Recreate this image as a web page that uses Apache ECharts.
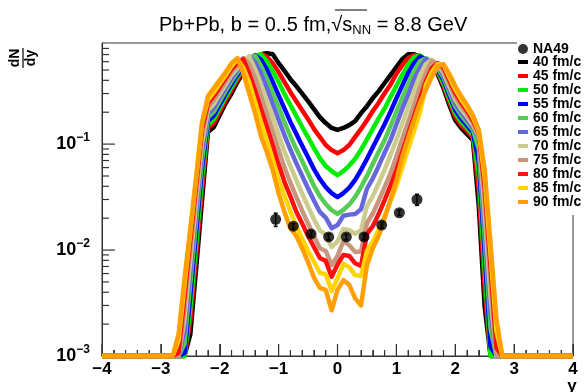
<!DOCTYPE html>
<html>
<head>
<meta charset="utf-8">
<script src="https://cdn.jsdelivr.net/npm/echarts@6/dist/echarts.min.js"></script>
<style>
  html, body { margin: 0; padding: 0; background: #fff; }
  #chart { width: 584px; height: 392px; }
</style>
</head>
<body>
<div id="chart"></div>
<script>
// rapidity grid shared by all model curves
const rapidity = [-4, -2.8, -2.7, -2.6, -2.5, -2.4, -2.3, -2.2, -2.1, -2.0, -1.9, -1.8, -1.7, -1.6, -1.5, -1.4, -1.3, -1.2, -1.1, -1.0,
  -0.9, -0.8, -0.7, -0.6, -0.5, -0.4, -0.3, -0.2, -0.1, 0, 0.1, 0.2, 0.3, 0.4, 0.5, 0.6, 0.7, 0.8, 0.9, 1.0,
  1.1, 1.2, 1.3, 1.4, 1.5, 1.6, 1.7, 1.8, 1.9, 2.0, 2.1, 2.2, 2.3, 2.4, 2.5, 2.6, 2.7, 2.8, 4];

const curveNames = ["40 fm/c", "45 fm/c", "50 fm/c", "55 fm/c", "60 fm/c", "65 fm/c",
  "70 fm/c", "75 fm/c", "80 fm/c", "85 fm/c", "90 fm/c"];
const curveColors = ["#000000", "#ff0000", "#00ee00", "#0000ff", "#55cc55", "#6666dd",
  "#cccc8c", "#c8967d", "#ff1010", "#ffd400", "#ffa000"];

const dndy40 = [0.001,0.001,0.001,0.001,0.0016,0.0068,0.030,0.13,0.145,0.188,0.243,0.30,0.385,0.478,0.569,0.648,0.706,0.722,0.706,0.581,
  0.49,0.41,0.353,0.30,0.254,0.214,0.18,0.158,0.142,0.136,0.142,0.151,0.165,0.196,0.228,0.272,0.316,0.377,0.448,0.532,
  0.634,0.706,0.706,0.662,0.594,0.532,0.457,0.338,0.233,0.168,0.142,0.124,0.109,0.026,0.0029,0.001,0.001,0.001,0.001];
const dndy45 = [0.001,0.001,0.001,0.001,0.00215,0.009,0.0385,0.142,0.158,0.202,0.26,0.323,0.405,0.499,0.588,0.662,0.706,0.669,0.581,0.478,
  0.385,0.309,0.254,0.209,0.172,0.139,0.117,0.098,0.0878,0.082,0.0878,0.098,0.117,0.139,0.168,0.205,0.246,0.302,0.364,0.461,
  0.556,0.648,0.691,0.669,0.607,0.546,0.472,0.358,0.249,0.182,0.151,0.133,0.115,0.0368,0.0044,0.001,0.001,0.001,0.001];
const dndy50 = [0.001,0.001,0.001,0.001,0.0028,0.0116,0.0478,0.151,0.172,0.219,0.278,0.345,0.429,0.521,0.607,0.676,0.706,0.607,0.488,0.385,
  0.296,0.233,0.184,0.145,0.116,0.0917,0.0738,0.062,0.0557,0.051,0.0557,0.0627,0.0728,0.0887,0.111,0.139,0.176,0.217,0.278,0.354,
  0.45,0.564,0.662,0.691,0.62,0.561,0.488,0.376,0.266,0.196,0.162,0.142,0.122,0.0505,0.0064,0.001,0.001,0.001,0.001];
const dndy55 = [0.001,0.001,0.001,0.00106,0.0037,0.015,0.0594,0.165,0.187,0.236,0.298,0.368,0.45,0.544,0.627,0.691,0.625,0.507,0.385,0.288,
  0.216,0.162,0.125,0.0965,0.075,0.058,0.0468,0.0393,0.0345,0.0316,0.0345,0.0388,0.046,0.0572,0.0724,0.0932,0.12,0.154,0.202,0.27,
  0.356,0.468,0.581,0.669,0.634,0.576,0.502,0.402,0.286,0.21,0.174,0.15,0.129,0.068,0.0092,0.00122,0.001,0.001,0.001];
const dndy60 = [0.001,0.001,0.001,0.0013,0.0049,0.0188,0.0722,0.177,0.203,0.254,0.318,0.393,0.474,0.569,0.648,0.683,0.547,0.415,0.304,0.224,
  0.161,0.119,0.0897,0.0692,0.0526,0.0404,0.0323,0.0272,0.0238,0.0219,0.0239,0.0269,0.0317,0.0393,0.0501,0.0652,0.0846,0.109,0.148,0.202,
  0.273,0.367,0.494,0.605,0.648,0.592,0.517,0.424,0.305,0.226,0.187,0.16,0.136,0.0897,0.0127,0.0018,0.001,0.001,0.001];
const dndy65 = [0.001,0.001,0.001,0.0017,0.0063,0.0233,0.0872,0.192,0.221,0.275,0.342,0.42,0.499,0.594,0.669,0.595,0.464,0.336,0.239,0.17,
  0.121,0.0887,0.0662,0.0501,0.0381,0.0293,0.0229,0.0202,0.0161,0.0172,0.0211,0.0216,0.0219,0.0243,0.0379,0.0475,0.0622,0.0828,0.109,0.153,
  0.215,0.291,0.406,0.524,0.634,0.607,0.532,0.448,0.326,0.243,0.20,0.17,0.143,0.115,0.0169,0.0026,0.001,0.001,0.001];
const dndy70 = [0.001,0.001,0.001,0.0022,0.008,0.0287,0.104,0.207,0.24,0.296,0.365,0.448,0.523,0.62,0.669,0.51,0.368,0.257,0.18,0.123,
  0.0848,0.062,0.0458,0.034,0.0257,0.0196,0.0154,0.0139,0.0107,0.012,0.0158,0.0154,0.0142,0.0154,0.026,0.0323,0.0427,0.0571,0.0788,0.11,
  0.157,0.223,0.315,0.444,0.569,0.623,0.549,0.474,0.35,0.262,0.215,0.182,0.151,0.119,0.0231,0.0036,0.001,0.001,0.001];
const dndy75 = [0.001,0.001,0.001,0.0028,0.01,0.0348,0.121,0.224,0.262,0.319,0.391,0.478,0.556,0.648,0.569,0.424,0.287,0.194,0.132,0.0882,
  0.06,0.0433,0.0318,0.0236,0.0178,0.0136,0.0104,0.0098,0.0072,0.0088,0.0121,0.0111,0.0096,0.0097,0.018,0.0221,0.0292,0.0393,0.0532,0.0763,
  0.112,0.162,0.235,0.342,0.468,0.607,0.569,0.501,0.373,0.283,0.23,0.193,0.159,0.123,0.0301,0.005,0.001,0.001,0.001];
const dndy80 = [0.001,0.001,0.00107,0.0036,0.0123,0.0414,0.14,0.242,0.285,0.345,0.418,0.51,0.583,0.634,0.465,0.323,0.215,0.146,0.0974,0.0641,
  0.0438,0.0321,0.023,0.0178,0.0136,0.0107,0.0084,0.0079,0.0056,0.0073,0.009,0.0088,0.0075,0.0071,0.0142,0.0168,0.022,0.0296,0.0406,0.0569,
  0.0845,0.124,0.183,0.267,0.391,0.518,0.583,0.529,0.40,0.304,0.247,0.206,0.168,0.127,0.0385,0.0068,0.0012,0.001,0.001];
const dndy85 = [0.001,0.001,0.0014,0.0046,0.0149,0.0486,0.159,0.262,0.309,0.372,0.447,0.544,0.634,0.526,0.383,0.25,0.162,0.109,0.0709,0.0459,
  0.0323,0.0231,0.0169,0.0128,0.0098,0.0078,0.0061,0.0059,0.0041,0.0054,0.0074,0.0069,0.0058,0.0057,0.0098,0.012,0.0156,0.021,0.029,0.0401,
  0.0602,0.0897,0.133,0.198,0.36,0.478,0.569,0.561,0.428,0.328,0.264,0.219,0.179,0.131,0.0483,0.009,0.0017,0.001,0.001];
const dndy90 = [0.001,0.001,0.0016,0.0053,0.016,0.049,0.16,0.284,0.338,0.402,0.478,0.581,0.648,0.468,0.302,0.196,0.119,0.0841,0.0569,0.0345,
  0.0228,0.0161,0.0136,0.0104,0.0077,0.0055,0.0044,0.0042,0.0027,0.0042,0.0052,0.0047,0.0035,0.003,0.0072,0.0104,0.0136,0.02,0.0296,0.0458,
  0.0755,0.114,0.168,0.243,0.323,0.43,0.544,0.569,0.457,0.353,0.284,0.233,0.188,0.136,0.0569,0.0114,0.0022,0.001,0.001];

const curveValues = [dndy40, dndy45, dndy50, dndy55, dndy60, dndy65, dndy70, dndy75, dndy80, dndy85, dndy90];

// NA49 data points
const na49Y = [-1.05, -0.75, -0.45, -0.15, 0.15, 0.45, 0.75, 1.05, 1.35];
const na49Value = [0.0195, 0.0168, 0.0142, 0.0133, 0.0133, 0.0133, 0.0172, 0.0225, 0.030];
const na49Err = [0.0028, 0.001, 0.0008, 0.0008, 0.0008, 0.0008, 0.001, 0.0013, 0.0036];

// axis ticks
const xMajorTicks = [-4, -3, -2, -1, 0, 1, 2, 3, 4];
const xTickLabels = ["\u22124", "\u22123", "\u22122", "\u22121", "0", "1", "2", "3", "4"];
const xMinorTicks = [-3.8, -3.6, -3.4, -3.2, -2.8, -2.6, -2.4, -2.2, -1.8, -1.6, -1.4, -1.2, -0.8, -0.6, -0.4, -0.2,
  0.2, 0.4, 0.6, 0.8, 1.2, 1.4, 1.6, 1.8, 2.2, 2.4, 2.6, 2.8, 3.2, 3.4, 3.6, 3.8];
const yMajorTicks = [0.001, 0.01, 0.1];
const yExponents = ["\u22123", "\u22122", "\u22121"];
const yMinorTicks = [0.002, 0.003, 0.004, 0.005, 0.006, 0.007, 0.008, 0.009,
  0.02, 0.03, 0.04, 0.05, 0.06, 0.07, 0.08, 0.09,
  0.2, 0.3, 0.4, 0.5, 0.6, 0.7, 0.8];

const FONT = "Liberation Sans, Arial, Helvetica, sans-serif";
const AXIS_COLOR = "#333333";

const chart = echarts.init(document.getElementById("chart"), null, { renderer: "canvas" });

const isMajorY = (v) => yMajorTicks.some((t) => Math.abs(t - v) / t < 1e-6);
const isMajorX = (v) => xMajorTicks.some((t) => Math.abs(t - v) < 1e-6);

const lineSeries = curveNames.map((name, k) => ({
  name: name,
  type: "line",
  data: rapidity.map((y, i) => [y, curveValues[k][i]]),
  symbol: "none",
  showSymbol: false,
  clip: false,
  z: 2,
  lineStyle: { color: curveColors[k], width: 4.5, cap: "butt", join: "round" },
  itemStyle: { color: curveColors[k] },
}));

function yLabel(value) {
  const i = yMajorTicks.findIndex((t) => Math.abs(t - value) / t < 1e-6);
  if (i < 0) return "";
  return "{b|10}{s|" + yExponents[i] + "}";
}

// short tick segments, placed through the axis scales
function tickItem(horizontal) {
  return (params, api) => {
    const vx = api.value(0);
    const vy = api.value(1);
    const p = api.coord([vx, vy]);
    const len = horizontal ? (isMajorY(vy) ? 13 : 7) : (isMajorX(vx) ? 12 : 6);
    const shape = horizontal
      ? { x1: p[0], y1: p[1], x2: p[0] + len, y2: p[1] }
      : { x1: p[0], y1: p[1], x2: p[0], y2: p[1] - len };
    return {
      type: "group",
      children: [{ type: "line", shape: shape, style: { stroke: AXIS_COLOR, lineWidth: 1.2 } }],
    };
  };
}

const legendText = {
  fontFamily: FONT,
  fontSize: 14,
  fontWeight: "bold",
  color: "#000",
  lineHeight: 13.4,
};

chart.setOption({
  animation: false,
  backgroundColor: "#fff",
  textStyle: { fontFamily: FONT },
  title: {
    text: "Pb+Pb, b = 0..5 fm,{r|\u221a}{s|s}{sub|NN}{t| = 8.8 GeV}",
    left: 154,
    top: 8,
    textStyle: {
      fontFamily: FONT,
      fontSize: 20,
      fontWeight: "normal",
      color: "#000",
      lineHeight: 24,
      rich: {
        r: { fontFamily: FONT, fontSize: 20, color: "#000", lineHeight: 24 },
        s: { fontFamily: FONT, fontSize: 20, color: "#000", lineHeight: 24 },
        sub: { fontFamily: FONT, fontSize: 13, color: "#000", lineHeight: 13, verticalAlign: "bottom" },
        t: { fontFamily: FONT, fontSize: 20, color: "#000", lineHeight: 24 },
      },
    },
  },
  legend: [
    {
      data: ["NA49"],
      orient: "vertical",
      left: 517,
      top: 40,
      icon: "circle",
      itemWidth: 10,
      itemHeight: 10,
      itemGap: 0,
      padding: [2, 22, 1, 1],
      backgroundColor: "#fff",
      selectedMode: false,
      textStyle: legendText,
    },
    {
      data: curveNames,
      orient: "vertical",
      left: 517,
      top: 55,
      icon: "rect",
      itemWidth: 10,
      itemHeight: 4,
      itemGap: 0,
      padding: [0, 4, 6, 1],
      backgroundColor: "#fff",
      selectedMode: false,
      itemStyle: { borderWidth: 0 },
      textStyle: legendText,
    },
  ],
  grid: {
    left: 102,
    right: 11,
    top: 43,
    bottom: 36,
    show: true,
    borderColor: AXIS_COLOR,
    borderWidth: 1,
    containLabel: false,
    outerBoundsMode: "none",
  },
  xAxis: {
    type: "value",
    min: -4,
    max: 4,
    interval: 1,
    axisLine: { show: true, onZero: false, lineStyle: { color: AXIS_COLOR, width: 1 } },
    splitLine: { show: false },
    axisTick: { show: true, inside: true, length: 12, lineStyle: { color: AXIS_COLOR, width: 1 } },
    minorTick: { show: true, splitNumber: 5, length: 6, lineStyle: { color: AXIS_COLOR, width: 1 } },
    axisLabel: {
      margin: 5,
      fontFamily: FONT,
      fontSize: 17,
      fontWeight: "bold",
      color: "#000",
      formatter: (v) => xTickLabels[Math.round(v) + 4],
    },
  },
  yAxis: {
    type: "log",
    logBase: 10,
    min: 0.001,
    max: 0.9,
    position: "left",
    axisLine: { show: true, onZero: false, lineStyle: { color: AXIS_COLOR, width: 1 } },
    splitLine: { show: false },
    axisTick: { show: false },
    axisLabel: {
      margin: 12,
      formatter: yLabel,
      rich: {
        b: { fontFamily: FONT, fontSize: 18, fontWeight: "bold", color: "#000", lineHeight: 24 },
        s: { fontFamily: FONT, fontSize: 12, fontWeight: "bold", color: "#000", lineHeight: 12, verticalAlign: "top" },
      },
    },
  },
  graphic: [
    {
      type: "group",
      x: 23,
      y: 58,
      rotation: Math.PI / 2,
      children: [
        { type: "text", x: 0, y: -1, style: { text: "dN", font: "bold 14px " + FONT, fill: "#000", align: "center", verticalAlign: "bottom", textAlign: "center", textVerticalAlign: "bottom" } },
        { type: "line", shape: { x1: -10, y1: 0, x2: 10, y2: 0 }, style: { stroke: "#000", lineWidth: 1.2 } },
        { type: "text", x: 0, y: 1, style: { text: "dy", font: "bold 14px " + FONT, fill: "#000", align: "center", verticalAlign: "top", textAlign: "center", textVerticalAlign: "top" } },
      ],
    },
    {
      type: "text",
      x: 572,
      y: 386,
      style: { text: "y", font: "bold 17px " + FONT, fill: "#000", align: "center", verticalAlign: "middle", textAlign: "center", textVerticalAlign: "middle" },
    },
    {
      type: "line",
      shape: { x1: 335, y1: 10, x2: 367, y2: 10 },
      style: { stroke: "#000", lineWidth: 1 },
    },
  ],
  series: [
    {
      name: "yTicks",
      type: "custom",
      silent: true,
      z: 1,
      data: yMajorTicks.concat(yMinorTicks).map((v) => [-4, v]),
      encode: { x: 0, y: 1 },
      renderItem: tickItem(true),
    },
    {
      name: "xTicks",
      type: "custom",
      silent: true,
      z: 1,
      data: xMajorTicks.concat(xMinorTicks).map((v) => [v, 0.001]),
      encode: { x: 0, y: 1 },
      renderItem: tickItem(false),
    },
    ...lineSeries,
    {
      name: "NA49err",
      type: "custom",
      data: na49Y.map((y, i) => [y, na49Value[i] - na49Err[i], na49Value[i] + na49Err[i]]),
      encode: { x: 0, y: [1, 2] },
      z: 5,
      renderItem: (params, api) => {
        const lo = api.coord([api.value(0), api.value(1)]);
        const hi = api.coord([api.value(0), api.value(2)]);
        const st = { stroke: "#000", lineWidth: 1.5 };
        return {
          type: "group",
          children: [
            { type: "line", shape: { x1: lo[0], y1: lo[1], x2: hi[0], y2: hi[1] }, style: st },
            { type: "line", shape: { x1: lo[0] - 2, y1: lo[1], x2: lo[0] + 2, y2: lo[1] }, style: st },
            { type: "line", shape: { x1: hi[0] - 2, y1: hi[1], x2: hi[0] + 2, y2: hi[1] }, style: st },
          ],
        };
      },
    },
    {
      name: "NA49",
      type: "scatter",
      data: na49Y.map((y, i) => [y, na49Value[i]]),
      symbol: "circle",
      symbolSize: 11,
      z: 6,
      itemStyle: { color: "#000" },
    },
  ],
});
</script>
</body>
</html>
